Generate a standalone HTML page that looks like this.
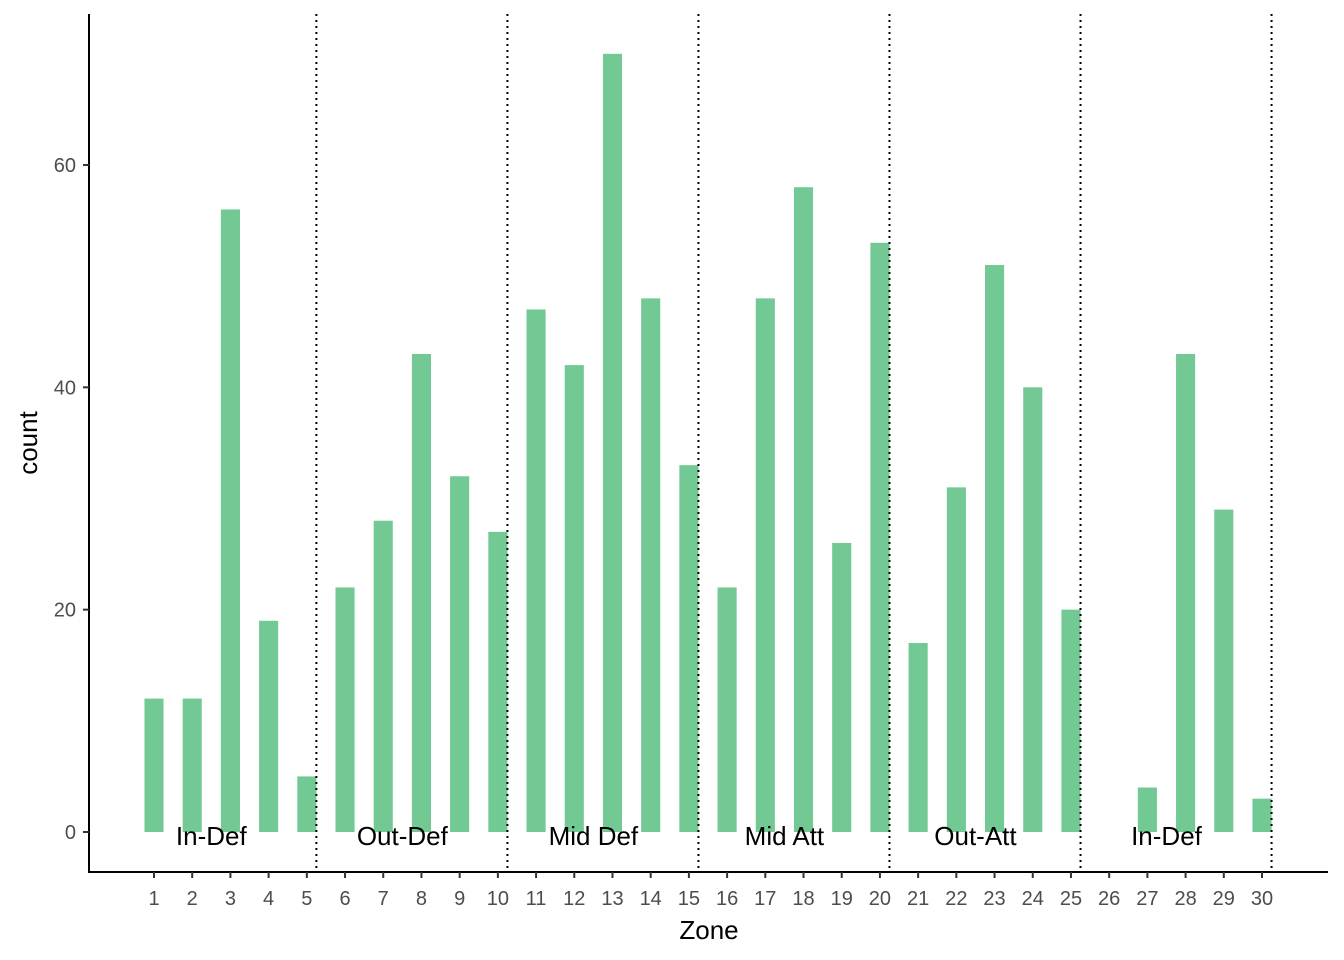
<!DOCTYPE html>
<html><head><meta charset="utf-8"><style>
body{margin:0;background:#fff}
svg{display:block;font-family:"Liberation Sans",sans-serif}
</style></head><body>
<svg id="c" width="1344" height="960"></svg>
<script>
const zones=[1,2,3,4,5,6,7,8,9,10,11,12,13,14,15,16,17,18,19,20,21,22,23,24,25,26,27,28,29,30];
const counts=[12,12,56,19,5,22,28,43,32,27,47,42,70,48,33,22,48,58,26,53,17,31,51,40,20,0,4,43,29,3];
const yTicks=[0,20,40,60];
const sectionNames=["In-Def","Out-Def","Mid Def","Mid Att","Out-Att","In-Def"];
const sectionCenters=[2.5,7.5,12.5,17.5,22.5,27.5];
const dividers=[5.25,10.25,15.25,20.25,25.25,30.25];
const svg=document.getElementById('c');const NS='http://www.w3.org/2000/svg';
const x=z=>154+(z-1)*38.207;
const y=v=>832-v*11.117;
function mk(t,a,txt){const e=document.createElementNS(NS,t);for(const k in a)e.setAttribute(k,a[k]);if(txt!==undefined)e.textContent=txt;svg.appendChild(e);return e;}
zones.forEach((z,i)=>{const r=mk('rect',{x:x(z)-9.55,y:y(counts[i]),width:19.1,height:counts[i]*11.117,fill:'#72c994'});

});
dividers.forEach(d=>{const l=mk('line',{x1:x(d),x2:x(d),y1:14,y2:872,stroke:'#000','stroke-width':2,'stroke-dasharray':'2,4'});

});
sectionNames.forEach((n,i)=>{const t=mk('text',{x:x(sectionCenters[i]),y:845,'font-size':26,'text-anchor':'middle',fill:'#000'},n);

});
const ya=mk('line',{x1:89,x2:89,y1:14,y2:873,stroke:'#000','stroke-width':2});


const xa=mk('line',{x1:88,x2:1328,y1:872,y2:872,stroke:'#000','stroke-width':2});


yTicks.forEach(v=>{mk('line',{x1:83,x2:89,y1:y(v),y2:y(v),stroke:'#333','stroke-width':2});
const t=mk('text',{x:76,y:y(v)+7,'font-size':20,'text-anchor':'end',fill:'#4d4d4d'},v);

});
zones.forEach(z=>{mk('line',{x1:x(z),x2:x(z),y1:872,y2:878,stroke:'#333','stroke-width':2});
const t=mk('text',{x:x(z),y:905,'font-size':20,'text-anchor':'middle',fill:'#4d4d4d'},z);

});
const xt=mk('text',{x:709,y:939,'font-size':26,'text-anchor':'middle',fill:'#000'},'Zone');


const yt=mk('text',{x:0,y:0,'font-size':26,'text-anchor':'middle',fill:'#000',transform:'translate(37,443) rotate(-90)'},'count');


</script>
</body></html>
